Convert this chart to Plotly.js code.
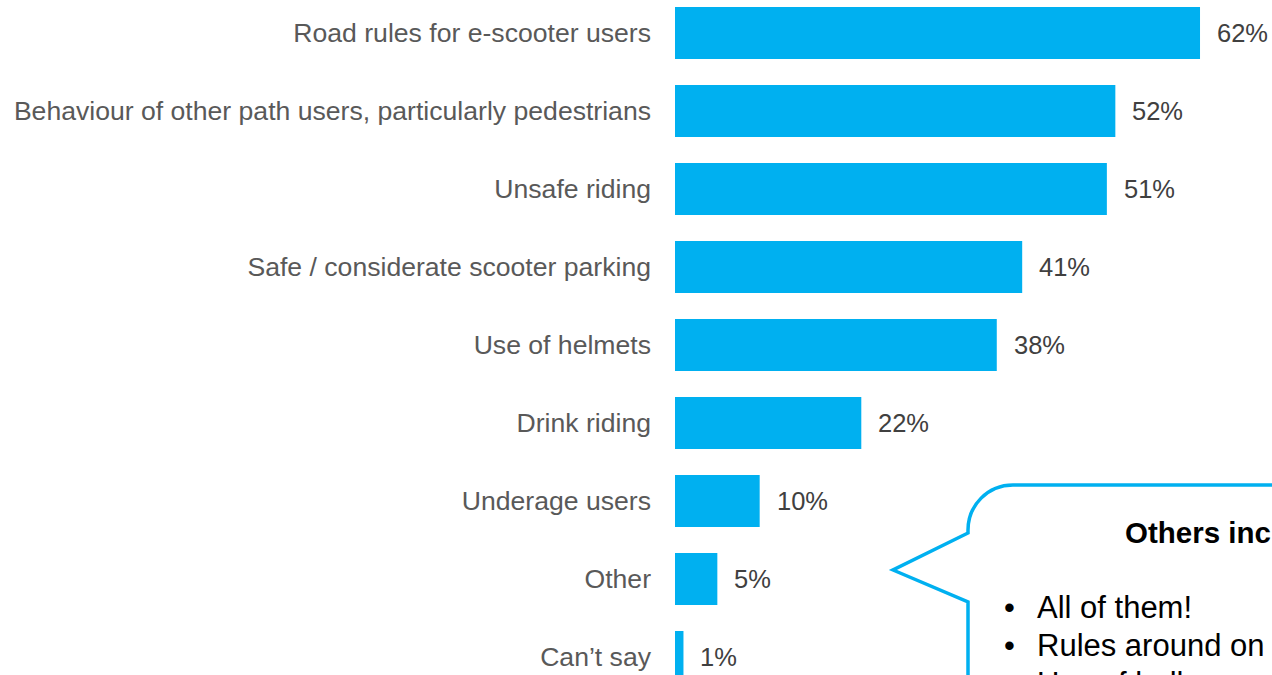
<!DOCTYPE html>
<html>
<head>
<meta charset="utf-8">
<script src="https://cdn.plot.ly/plotly-3.0.1.min.js"></script>
<style>
  html, body { margin: 0; padding: 0; background: #ffffff; }
  #chart { width: 1272px; height: 675px; }
</style>
</head>
<body>
<div id="chart"></div>
<script>
// ---- data ----
const categories = [
  "Road rules for e-scooter users",
  "Behaviour of other path users, particularly pedestrians",
  "Unsafe riding",
  "Safe / considerate scooter parking",
  "Use of helmets",
  "Drink riding",
  "Underage users",
  "Other",
  "Can\u2019t say"
];
const values = [62, 52, 51, 41, 38, 22, 10, 5, 1];
const valueLabels = ["62%", "52%", "51%", "41%", "38%", "22%", "10%", "5%", "1%"];
const calloutTitle = "Others included:";
const calloutItems = ["All of them!", "Rules around on footpaths", "Use of bells"];

// ---- layout helpers (pixel -> paper) ----
const W = 1272, H = 675, ML = 675;
const px = x => (x - ML) / (W - ML);
const py = y => 1 - y / H;

const barColor = "#00B0F0";

const trace = {
  type: "bar",
  orientation: "h",
  y: categories,
  x: values,
  marker: { color: barColor },
  hoverinfo: "skip"
};

const valueAnnotations = values.map((v, i) => ({
  x: v, y: categories[i], xref: "x", yref: "y",
  text: valueLabels[i], showarrow: false,
  xanchor: "left", yanchor: "middle", xshift: 15,
  font: { family: "Liberation Sans, Arial, sans-serif", size: 25.5, color: "#404040" }
}));

const calloutFont = { family: "Liberation Sans, Arial, sans-serif", size: 31, color: "#000000" };
const calloutAnnotations = [
  { x: px(1123), y: py(532), xref: "paper", yref: "paper", text: "<b>" + calloutTitle + "</b>",
    showarrow: false, xanchor: "left", yanchor: "middle",
    font: { family: "Liberation Sans, Arial, sans-serif", size: 29.5, color: "#000000" } }
];
calloutItems.forEach((t, i) => {
  const yc = 607 + i * 38;
  calloutAnnotations.push({ x: px(1002), y: py(yc), xref: "paper", yref: "paper", text: "\u2022",
    showarrow: false, xanchor: "left", yanchor: "middle", font: calloutFont });
  calloutAnnotations.push({ x: px(1035), y: py(yc), xref: "paper", yref: "paper", text: t,
    showarrow: false, xanchor: "left", yanchor: "middle", font: calloutFont });
});

const calloutPath =
  "M " + px(1300) + "," + py(485) +
  " L " + px(1013) + "," + py(485) +
  " C " + px(988) + "," + py(485) + " " + px(968) + "," + py(505) + " " + px(968) + "," + py(530) +
  " L " + px(968) + "," + py(533) +
  " L " + px(893) + "," + py(570) +
  " L " + px(968) + "," + py(602) +
  " L " + px(968) + "," + py(700);

const layout = {
  width: W, height: H,
  margin: { l: ML, r: 0, t: 0, b: 0, pad: 0 },
  paper_bgcolor: "#ffffff",
  plot_bgcolor: "#ffffff",
  showlegend: false,
  bargap: 0.333,
  xaxis: {
    range: [0, (W - ML) / 8.468],
    showgrid: false, zeroline: false, showline: false,
    showticklabels: false, ticks: "", fixedrange: true
  },
  yaxis: {
    type: "category",
    range: [8.231, -0.423],
    showgrid: false, zeroline: false, showline: false,
    ticks: "", ticklabelstandoff: 23,
    tickfont: { family: "Liberation Sans, Arial, sans-serif", size: 26.6, color: "#595959" },
    fixedrange: true
  },
  shapes: [{
    type: "path", xref: "paper", yref: "paper", path: calloutPath,
    line: { color: barColor, width: 3.5 }, fillcolor: "rgba(0,0,0,0)"
  }],
  annotations: valueAnnotations.concat(calloutAnnotations)
};

Plotly.newPlot("chart", [trace], layout, { displayModeBar: false, staticPlot: true });
</script>
</body>
</html>
